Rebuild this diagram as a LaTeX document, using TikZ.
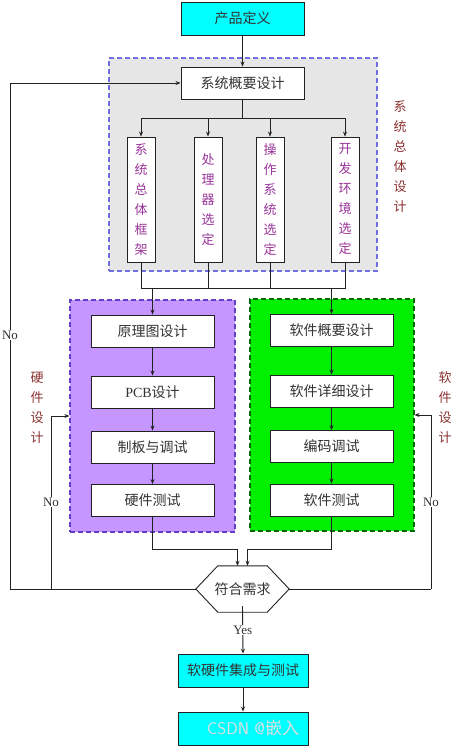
\documentclass[tikz,border=0pt]{standalone}
\usepackage{fontspec}
\setmainfont{Liberation Serif}
\newfontfamily\cjk{Noto Sans CJK SC}
\usetikzlibrary{arrows.meta}
\definecolor{cy}{HTML}{00FFFF}
\definecolor{sysbg}{HTML}{E6E6E6}
\definecolor{sysbd}{HTML}{7070DD}
\definecolor{hwbg}{HTML}{C596FF}
\definecolor{hwbd}{HTML}{6040C8}
\definecolor{swbg}{HTML}{00F000}
\definecolor{swbd}{HTML}{006600}
\definecolor{ptxt}{HTML}{993399}
\definecolor{btxt}{HTML}{8B3030}
\definecolor{ln}{HTML}{222222}
\definecolor{tx}{HTML}{333333}
\tikzset{
  box/.style={draw=ln, line width=0.9pt, fill=white, rectangle, inner sep=0pt, text=tx,
    minimum width=123pt, minimum height=32pt, font=\cjk\fontsize{14}{16}\selectfont},
  cbox/.style={box, fill=cy, minimum width=130pt, minimum height=33pt},
  vbox/.style={draw=ln, line width=0.9pt, fill=white, rectangle, inner sep=0pt,
    minimum width=28pt, minimum height=125pt, align=center, text=ptxt,
    font=\cjk\fontsize{13}{20}\selectfont},
  region/.style={rectangle, inner sep=0pt, line width=1.2pt, dash pattern=on 5pt off 3pt},
  sidelbl/.style={align=center, text=btxt, inner sep=0pt, font=\cjk\fontsize{13}{20}\selectfont},
  lbl/.style={fill=white, inner sep=1pt, text=tx, font=\fontsize{13}{14}\selectfont},
  con/.style={draw=ln, line width=0.9pt},
  arr/.style={con, -{Stealth[length=5pt,width=4pt]}},
}
\begin{document}
\begin{tikzpicture}[x=1pt,y=-1pt]
\useasboundingbox (0,0) rectangle (455,749);
% regions
\node[region, draw=sysbd, fill=sysbg, minimum width=268pt, minimum height=213pt] (sysreg) at (243,164.5) {};
\node[region, draw=hwbd, fill=hwbg, minimum width=165pt, minimum height=232pt] (hwreg) at (152.5,416) {};
\node[region, draw=swbd, fill=swbg, minimum width=164pt, minimum height=232pt] (swreg) at (332,415) {};
% top
\node[cbox, minimum width=123pt] (def) at (242.5,18.5) {产品定义};
\node[box] (sys) at (242.5,83) {系统概要设计};
\node[vbox] (v1) at (141,199.5) {系\\统\\总\\体\\框\\架};
\node[vbox] (v2) at (208,199.5) {处\\理\\器\\选\\定};
\node[vbox] (v3) at (270,199.5) {操\\作\\系\\统\\选\\定};
\node[vbox] (v4) at (345,199.5) {开\\发\\环\\境\\选\\定};
\node[sidelbl] (sl1) at (400,157) {系\\统\\总\\体\\设\\计};
% hardware
\node[box] (h1) at (152.5,331) {原理图设计};
\node[box] (h2) at (152.5,392) {\rmfamily PCB\cjk 设计};
\node[box] (h3) at (152.5,447) {制板与调试};
\node[box] (h4) at (152.5,500.5) {硬件测试};
\node[sidelbl] (sl2) at (37,408) {硬\\件\\设\\计};
% software
\node[box] (s1) at (331.5,330.5) {软件概要设计};
\node[box] (s2) at (331.5,391) {软件详细设计};
\node[box] (s3) at (331.5,446.5) {编码调试};
\node[box] (s4) at (331.5,500) {软件测试};
\node[sidelbl] (sl3) at (445,408) {软\\件\\设\\计};
% check
\node[inner sep=0pt, minimum width=93pt, minimum height=46pt, text=tx, font=\cjk\fontsize{14}{16}\selectfont] (chk) at (242.5,589) {符合需求};
\draw[con] (chk.west) -- ([xshift=22pt]chk.north west) -- ([xshift=-22pt]chk.north east) -- (chk.east)
  -- ([xshift=-22pt]chk.south east) -- ([xshift=22pt]chk.south west) -- cycle;
\node[cbox] (intg) at (243,670.5) {软硬件集成与测试};
\node[cbox] (last) at (243,728.5) {};
\node[text=white!88!black, font=\fontsize{17}{19}\selectfont\sffamily, anchor=west, inner sep=0pt] (wm) at (207,728.5) {CSDN @\cjk 嵌入};
% connectors top
\draw[arr] (def) -- (sys);
\coordinate (bus) at (242.5,118);
\draw[con] (sys.south) -- (bus);
\draw[arr] (bus) -| (v1.north);
\draw[arr] (bus) -| (v2.north);
\draw[arr] (bus) -| (v3.north);
\draw[arr] (bus) -| (v4.north);
\coordinate (bus2) at (242.5,288);
\draw[con] (v1.south) -- (v1.south |- bus2) -- (v4.south |- bus2) -- (v4.south);
\draw[con] (v2.south) -- (v2.south |- bus2);
\draw[con] (v3.south) -- (v3.south |- bus2);
\draw[arr] (h1.north |- bus2) -- (h1.north);
\draw[arr] (s1.north |- bus2) -- (s1.north);
% chains
\draw[arr] (h1) -- (h2);
\draw[arr] (h2) -- (h3);
\draw[arr] (h3) -- (h4);
\draw[arr] (s1) -- (s2);
\draw[arr] (s2) -- (s3);
\draw[arr] (s3) -- (s4);
% merge
\coordinate (m) at (0,549);
\coordinate (hin) at ([xshift=-5pt]chk.north);
\coordinate (sin) at ([xshift=5pt]chk.north);
\draw[arr] (h4.south) |- (hin |- m) -- (hin);
\draw[arr] (s4.south) |- (sin |- m) -- (sin);
% No loops
\coordinate (lout) at (10,589);
\coordinate (lin) at (51,589);
\coordinate (rin) at (431,589);
\draw[arr] (chk.west) -- (lout) |- (sys.west);
\draw[arr] (lin) |- (hwreg.west);
\draw[con] (chk.east) -- (rin);
\draw[arr] (rin) |- (swreg.east);
\node[lbl] (no1) at (10,335) {No};
\node[lbl] (no2) at (51,502) {No};
\node[lbl] (no3) at (431,502) {No};
% yes
\draw[arr] ([yshift=6pt]chk.south) -- node[lbl] (yes) {Yes} (intg.north);
\draw[arr] (intg) -- (last);
\end{tikzpicture}
\end{document}
